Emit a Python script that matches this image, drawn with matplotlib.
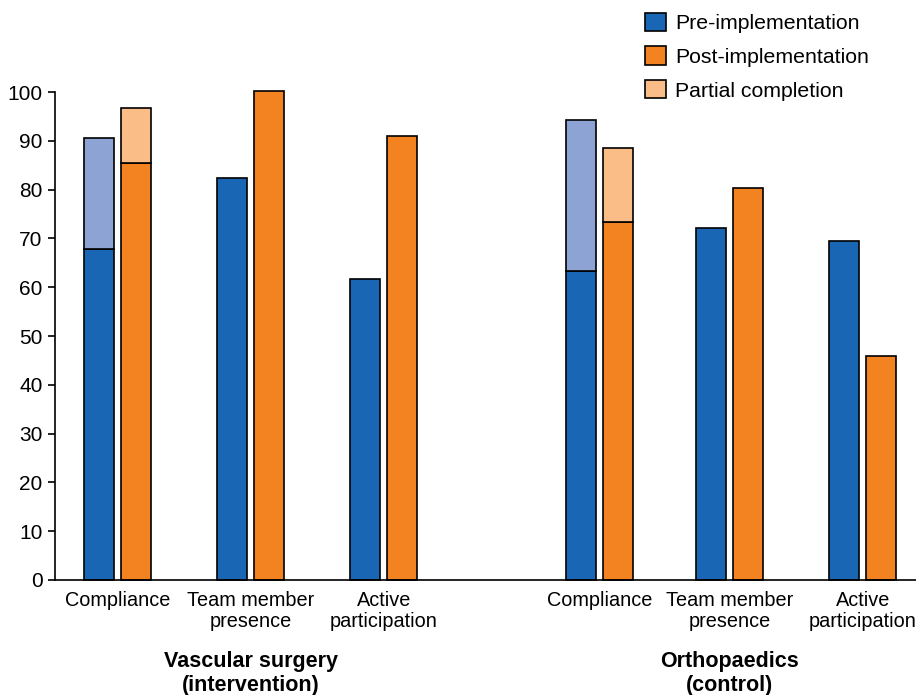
import matplotlib
matplotlib.use("Agg")
import matplotlib.pyplot as plt
from matplotlib.patches import Patch

categories = ["Compliance", "Team member\npresence", "Active\nparticipation",
              "Compliance", "Team member\npresence", "Active\nparticipation"]
groups = ["Vascular surgery\n(intervention)", "Orthopaedics\n(control)"]
pre_full = [67.8, 82.4, 61.7, 63.3, 72.1, 69.5]
pre_partial_top = [90.6, None, None, 94.3, None, None]
post_full = [85.5, 100.2, 91.0, 73.4, 80.3, 45.9]
post_partial_top = [96.7, None, None, 88.5, None, None]
yticks = [0, 10, 20, 30, 40, 50, 60, 70, 80, 90, 100]

C_PRE = "#1866b4"
C_PRE_L = "#8da3d4"
C_POST = "#f38220"
C_POST_L = "#fbbd87"

plt.rcParams['font.family'] = ['Liberation Sans', 'DejaVu Sans']

fig = plt.figure(figsize=(9.16, 6.95), dpi=100)
ax = fig.add_axes([0.060, 0.1655, 0.940, 0.702])

xpos = [0, 1, 2, 3.62, 4.6, 5.6]
w = 0.225
off = 0.14
ekw = dict(edgecolor="black", linewidth=1.2, clip_on=False)
for i, x in enumerate(xpos):
    ax.bar(x - off, pre_full[i], w, color=C_PRE, **ekw)
    if pre_partial_top[i] is not None:
        ax.bar(x - off, pre_partial_top[i] - pre_full[i], w, bottom=pre_full[i], color=C_PRE_L, **ekw)
    ax.bar(x + off, post_full[i], w, color=C_POST, **ekw)
    if post_partial_top[i] is not None:
        ax.bar(x + off, post_partial_top[i] - post_full[i], w, bottom=post_full[i], color=C_POST_L, **ekw)

ax.set_xlim(-0.47, 6.0)
ax.set_ylim(0, 100)
ax.set_yticks(yticks)
ax.tick_params(axis='y', labelsize=15, length=5, width=1.2, direction='out', pad=4)
ax.set_xticks(xpos)
ax.set_xticklabels(categories, fontsize=14.3, linespacing=1.12)
ax.tick_params(axis='x', length=0, pad=8)
for s in ['top', 'right']:
    ax.spines[s].set_visible(False)
ax.spines['left'].set_linewidth(1.2)
ax.spines['bottom'].set_linewidth(1.2)

for gx, g in zip([1, 4.6], groups):
    ax.text(gx, -0.145, g, transform=ax.get_xaxis_transform(), ha='center', va='top',
            fontsize=15.5, fontweight='bold', linespacing=1.22)

handles = [Patch(facecolor=C_PRE, edgecolor='black', linewidth=1.2, label="Pre-implementation"),
           Patch(facecolor=C_POST, edgecolor='black', linewidth=1.2, label="Post-implementation"),
           Patch(facecolor=C_POST_L, edgecolor='black', linewidth=1.2, label="Partial completion")]
fig.legend(handles=handles, loc='upper left', bbox_to_anchor=(0.686, 1.006), frameon=False,
           fontsize=15.3, handlelength=0.95, handleheight=0.95, handletextpad=0.45,
           labelspacing=0.62, borderpad=0.3)

fig.savefig("out.png", dpi=100)
